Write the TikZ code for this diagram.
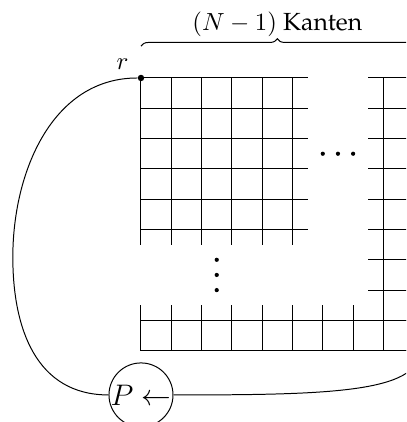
\documentclass[tikz,border=0pt]{standalone}
\usepackage[T1]{fontenc}
\usepackage{palatino}
\usepackage{amsmath}
\usetikzlibrary{positioning, decorations.pathreplacing}

\begin{document}
\begin{tikzpicture}[
  x=0.43cm, y=0.43cm,
  punkt/.style={circle, fill, inner sep=0pt, minimum size=2.6pt},
  pnode/.style={circle, draw, inner sep=0pt, minimum size=24pt, font=\large},
  klammer/.style={decorate, decoration={brace, amplitude=3pt}},
]
\useasboundingbox (-4.653,-11.353) rectangle (8.746,2.574);
\clip (-4.653,-11.353) rectangle (8.746,2.574);

% Upper left block of the grid
\foreach \j in {0,...,5} \draw (0,-\j) -- (5.5,-\j);
\foreach \i in {0,...,5} \draw (\i,0) -- (\i,-5.5);

% Right column
\foreach \j in {0,...,9} \draw (7.5,-\j) -- (9,-\j);
\draw (8,0) -- (8,-9);

% Bottom rows
\foreach \j in {8,9} \draw (0,-\j) -- (9,-\j);
\foreach \i in {0,...,8} \draw (\i,-7.5) -- (\i,-9);

% Dots
\foreach \x in {6,6.5,7} \fill (\x,-2.5) circle (0.85pt);
\foreach \y in {6,6.5,7} \fill (2.5,-\y) circle (0.85pt);

% Root and processor
\node[punkt] (r) at (0,0) {};
\node[above left=-1pt and 0.5pt of r] (rlab) {$r$};
\node[pnode] (P) at (0,-10.46) {$P \leftarrow$};
\coordinate (links) at (-4.23,-5.91);
\coordinate (ecke) at (9.2,-9);

% Connections
\draw (r) to[out=180, in=90] (links) to[out=-90, in=180, looseness=1.1] (P);
\draw (P.east) .. controls +(5,0) and +(0,-1.4) .. (ecke);

% Brace over the top row
\coordinate (bl) at (0,1.05);
\coordinate (br) at (9,1.05);
\draw[klammer] (bl) -- (br);
\node (kanten) at (4.5,1.78) {$(N-1)$ Kanten};

\end{tikzpicture}
\end{document}
